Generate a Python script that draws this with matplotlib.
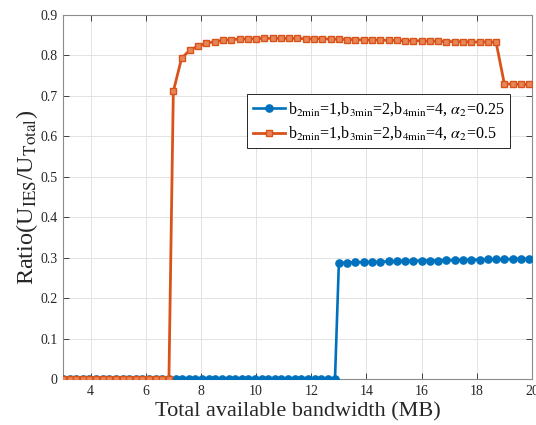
import matplotlib
matplotlib.use("Agg")
import matplotlib.pyplot as plt

plt.rcParams["font.family"] = ["Liberation Serif", "DejaVu Serif"]
plt.rcParams["mathtext.fontset"] = "stix"

# alpha2 = 0.25 : zero region, then a plateau just under 0.3
x_a25_zero = [3.0, 3.24, 3.48, 3.72, 3.96, 4.2, 4.44, 4.68, 4.92, 5.16, 5.4, 5.64,
              5.88, 6.12, 6.36, 6.6, 6.84, 7.08, 7.32, 7.56, 7.8, 8.04, 8.28, 8.52,
              8.76, 9.0, 9.24, 9.48, 9.72, 9.96, 10.2, 10.44, 10.68, 10.92, 11.16,
              11.4, 11.64, 11.88, 12.12, 12.36, 12.6, 12.86]
x_a25_high = [13.0, 13.3, 13.6, 13.9, 14.2, 14.5, 14.8, 15.1, 15.4, 15.7, 16.0, 16.3,
              16.6, 16.9, 17.2, 17.5, 17.8, 18.1, 18.4, 18.7, 19.0, 19.3, 19.6, 19.9]
y_a25_high = [0.287, 0.288, 0.289, 0.289, 0.290, 0.290, 0.291, 0.291, 0.292, 0.292,
              0.293, 0.293, 0.293, 0.294, 0.294, 0.295, 0.295, 0.295, 0.296, 0.296,
              0.296, 0.297, 0.297, 0.297]

# alpha2 = 0.5 : zero region, sharp rise, plateau, then a drop near 19 MB
x_a5_zero = [3.0, 3.24, 3.48, 3.72, 3.96, 4.2, 4.44, 4.68, 4.92, 5.16, 5.4, 5.64,
             5.88, 6.12, 6.36, 6.6, 6.84]
x_a5_high = [7.0, 7.3, 7.6, 7.9, 8.2, 8.5, 8.8, 9.1, 9.4, 9.7, 10.0, 10.3, 10.6, 10.9,
             11.2, 11.5, 11.8, 12.1, 12.4, 12.7, 13.0, 13.3, 13.6, 13.9, 14.2, 14.5,
             14.8, 15.1, 15.4, 15.7, 16.0, 16.3, 16.6, 16.9, 17.2, 17.5, 17.8, 18.1,
             18.4, 18.7, 19.0, 19.3, 19.6, 19.9]
y_a5_high = [0.711, 0.793, 0.813, 0.823, 0.830, 0.834, 0.837, 0.839, 0.840, 0.841,
             0.841, 0.842, 0.842, 0.842, 0.842, 0.842, 0.841, 0.841, 0.841, 0.840,
             0.840, 0.839, 0.839, 0.838, 0.838, 0.838, 0.837, 0.837, 0.836, 0.836,
             0.836, 0.835, 0.835, 0.834, 0.834, 0.834, 0.833, 0.833, 0.833, 0.832,
             0.729, 0.729, 0.728, 0.728]

x_a25 = x_a25_zero + x_a25_high
y_a25 = [0.0] * len(x_a25_zero) + y_a25_high
x_a5 = x_a5_zero + x_a5_high
y_a5 = [0.0] * len(x_a5_zero) + y_a5_high

label_a25 = r"b$_{\mathrm{2min}}$=1,b$_{\mathrm{3min}}$=2,b$_{\mathrm{4min}}$=4, $\alpha_{\mathrm{2}}$=0.25"
label_a5 = r"b$_{\mathrm{2min}}$=1,b$_{\mathrm{3min}}$=2,b$_{\mathrm{4min}}$=4, $\alpha_{\mathrm{2}}$=0.5"

xticks = [4, 6, 8, 10, 12, 14, 16, 18, 20]
yticks = [0, 0.1, 0.2, 0.3, 0.4, 0.5, 0.6, 0.7, 0.8, 0.9]
ytick_labels = ["0", "0.1", "0.2", "0.3", "0.4", "0.5", "0.6", "0.7", "0.8", "0.9"]

blue = "#0072BD"
orange = "#D95319"

fig = plt.figure(figsize=(5.36, 4.25), dpi=100)
ax = fig.add_axes([0.1175, 0.108, 0.875, 0.857])

ax.plot(x_a25, y_a25, color=blue, lw=1.9, marker="o", ms=5.2,
        mfc=blue, mec=blue, label=label_a25, zorder=3)
ax.plot(x_a5, y_a5, color=orange, lw=2.0, marker="s", ms=4.8,
        mfc="#E8865A", mec=orange, mew=1.0, label=label_a5, zorder=4)

ax.set_xlim(3, 20)
ax.set_ylim(0, 0.9)
ax.set_xticks(xticks)
ax.set_xticklabels([str(t) for t in xticks])
ax.set_yticks(yticks)
ax.set_yticklabels(ytick_labels)
ax.tick_params(direction="in", top=True, right=True, labelsize=10,
               colors="#262626", length=4, width=0.6, pad=4)
ax.grid(True, color="#E3E3E3", lw=0.7)
ax.set_axisbelow(True)
for s in ax.spines.values():
    s.set_color("#8C8C8C")
    s.set_linewidth(0.8)

ax.set_xlabel("Total available bandwidth (MB)", fontsize=16, color="#262626", labelpad=3)
ax.set_ylabel(r"Ratio(U$_{\mathrm{IES}}$/U$_{\mathrm{Total}}$)", fontsize=17.5,
              color="#262626", labelpad=0)

leg = ax.legend(loc="upper left", bbox_to_anchor=(0.393, 0.782), fontsize=11.5,
                frameon=True, fancybox=False, edgecolor="#262626", framealpha=1,
                handlelength=2.0, handletextpad=0.2, borderpad=0.35, labelspacing=0.45,
                borderaxespad=0)
leg.get_frame().set_linewidth(0.7)

fig.savefig("out.png", dpi=100)
